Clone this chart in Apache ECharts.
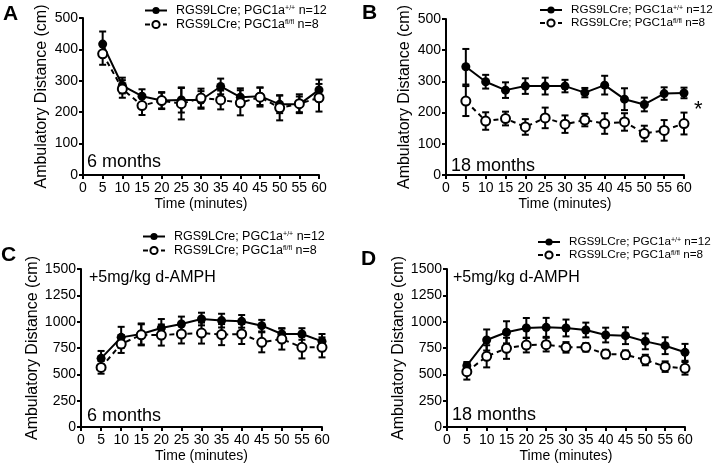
<!DOCTYPE html>
<html><head><meta charset="utf-8">
<script src="https://cdn.jsdelivr.net/npm/echarts@6/dist/echarts.min.js"></script>
<style>html,body{margin:0;padding:0;background:#fff}#c{width:720px;height:467px}</style>
</head><body><div id="c"></div>
<script>
const times = [5,10,15,20,25,30,35,40,45,50,55,60];
const nameWT = 'RGS9LCre; PGC1a+/+ n=12';
const nameKO = 'RGS9LCre; PGC1afl/fl n=8';

// Panel A: 6 months baseline
const aWT    = [417,285,251,237,239,239,282,248,251,225,225,271];
const aWTerr = [40,25,22,27,40,28,25,28,28,28,25,33];
const aKO    = [386,274,221,237,227,245,239,230,248,214,227,246];
const aKOerr = [35,28,30,25,50,30,30,40,30,40,30,44];

// Panel B: 18 months baseline
const bWT    = [347,299,272,285,285,285,264,288,243,226,261,263];
const bWTerr = [57,22,25,25,27,20,15,30,35,22,20,17];
const bKO    = [237,173,181,154,183,163,176,165,170,133,143,165];
const bKOerr = [48,28,22,25,33,28,20,33,28,25,33,35];

// Panel C: 6 months + d-AMPH
const cWT    = [652,851,883,940,978,1025,1010,1003,962,883,883,813];
const cWTerr = [70,100,100,85,70,60,65,60,55,55,55,70];
const cKO    = [566,788,875,873,883,892,877,883,804,835,756,756];
const cKOerr = [60,85,100,100,90,100,100,95,95,100,105,95];

// Panel D: 18 months + d-AMPH
const dWT    = [582,826,899,940,946,940,921,873,867,813,772,709];
const dWTerr = [35,100,105,95,90,80,70,70,80,75,80,80];
const dKO    = [525,671,747,778,782,756,756,693,687,636,573,557];
const dKOerr = [75,105,100,70,65,50,40,40,40,50,50,60];

const yMaxA = 500, yStepA = 100;
const yMaxC = 1500, yStepC = 250;

const FONT = 'Liberation Sans';
const panels = [
  {grid:{left:83, top:18, width:236, height:157}, ymax:yMaxA, ystep:yStepA, wt:aWT, wte:aWTerr, ko:aKO, koe:aKOerr, legend:{left:144, top:4}, gap:33, lf:12.5},
  {grid:{left:446, top:19, width:238, height:156}, ymax:yMaxA, ystep:yStepA, wt:bWT, wte:bWTerr, ko:bKO, koe:bKOerr, legend:{left:539, top:4}, gap:33, lf:11.7},
  {grid:{left:81, top:269, width:241, height:158}, ymax:yMaxC, ystep:yStepC, wt:cWT, wte:cWTerr, ko:cKO, koe:cKOerr, legend:{left:142, top:230}, gap:36, lf:12.5},
  {grid:{left:447, top:269, width:238, height:158}, ymax:yMaxC, ystep:yStepC, wt:dWT, wte:dWTerr, ko:dKO, koe:dKOerr, legend:{left:537, top:236}, gap:36, lf:11.7}
];

function errRender(params, api){
  const x = api.value(0), lo = api.value(1), hi = api.value(2);
  const p1 = api.coord([x, lo]), p2 = api.coord([x, hi]);
  const w = 3.5, st = {stroke:'#000', lineWidth:2};
  return {type:'group', children:[
    {type:'line', shape:{x1:p1[0], y1:p1[1], x2:p2[0], y2:p2[1]}, style:st},
    {type:'line', shape:{x1:p1[0]-w, y1:p1[1], x2:p1[0]+w, y2:p1[1]}, style:st},
    {type:'line', shape:{x1:p2[0]-w, y1:p2[1], x2:p2[0]+w, y2:p2[1]}, style:st}
  ]};
}

const grid = [], xAxis = [], yAxis = [], series = [], legend = [];
panels.forEach((p, i) => {
  grid.push(p.grid);
  xAxis.push({
    type:'value', gridIndex:i, min:0, max:60, interval:5,
    name:'Time (minutes)', nameLocation:'middle', nameGap:22,
    nameTextStyle:{fontFamily:FONT, fontSize:14, color:'#000'},
    axisLine:{show:true, lineStyle:{color:'#000', width:2}},
    axisTick:{show:true, length:4, lineStyle:{color:'#000', width:2}},
    axisLabel:{fontFamily:FONT, fontSize:14, color:'#000', margin:6, formatter: v => String(v)},
    splitLine:{show:false}
  });
  yAxis.push({
    type:'value', gridIndex:i, min:0, max:p.ymax, interval:p.ystep,
    name:'Ambulatory Distance (cm)', nameLocation:'middle', nameGap: p.gap,
    nameTextStyle:{fontFamily:FONT, fontSize:16, color:'#000'},
    axisLine:{show:true, lineStyle:{color:'#000', width:2}},
    axisTick:{show:true, length:4, lineStyle:{color:'#000', width:2}},
    axisLabel:{fontFamily:FONT, fontSize:14, color:'#000', margin:5, formatter: v => String(v)},
    splitLine:{show:false}
  });
  series.push({
    type:'custom', xAxisIndex:i, yAxisIndex:i, z:1, silent:true,
    renderItem: errRender,
    data: times.map((t,k) => [t, p.wt[k]-p.wte[k], p.wt[k]+p.wte[k]])
  });
  series.push({
    type:'custom', xAxisIndex:i, yAxisIndex:i, z:1, silent:true,
    renderItem: errRender,
    data: times.map((t,k) => [t, p.ko[k]-p.koe[k], p.ko[k]+p.koe[k]])
  });
  series.push({
    name:nameWT, type:'line', xAxisIndex:i, yAxisIndex:i, z:3,
    data: times.map((t,k) => [t, p.wt[k]]),
    symbol:'circle', symbolSize:9,
    itemStyle:{color:'#000', borderColor:'#000', borderWidth:0},
    lineStyle:{color:'#000', width:2, type:'solid'},
    animation:false
  });
  series.push({
    name:nameKO, type:'line', xAxisIndex:i, yAxisIndex:i, z:4,
    data: times.map((t,k) => [t, p.ko[k]]),
    symbol:'circle', symbolSize:9,
    itemStyle:{color:'#fff', borderColor:'#000', borderWidth:2},
    lineStyle:{color:'#000', width:2, type:[5,4]},
    animation:false
  });
  legend.push({
    data:[nameWT, nameKO], orient:'vertical', left:p.legend.left, top:p.legend.top,
    itemWidth:22, itemHeight:9, itemGap:1, padding:0, selectedMode:false,
    formatter: n => n === nameWT ? '{t|RGS9LCre; PGC1a}{s|+/+}{t| n=12}' : '{t|RGS9LCre; PGC1a}{s|fl/fl}{t| n=8}',
    textStyle:{
      fontFamily:FONT, fontSize:p.lf, color:'#000', lineHeight:11, padding:[0,0,0,4],
      rich:{
        t:{fontFamily:FONT, fontSize:p.lf, color:'#000', lineHeight:11},
        s:{fontFamily:FONT, fontSize:7, color:'#000', verticalAlign:'top', lineHeight:11}
      }
    }
  });
});

function txt(left, top, text, size, bold){
  return {type:'text', left, top, style:{text, fontFamily:FONT, fontSize:size, fontWeight: bold ? 'bold' : 'normal', fill:'#000'}};
}

const chart = echarts.init(document.getElementById('c'), null, {renderer:'canvas'});
chart.setOption({
  backgroundColor:'#fff',
  animation:false,
  grid, xAxis, yAxis, series, legend,
  graphic:[
    txt(3, 4, 'A', 21, true),
    txt(362, 3, 'B', 21, true),
    txt(1, 245, 'C', 21, true),
    txt(361, 249, 'D', 21, true),
    txt(87, 153, '6 months', 18),
    txt(451, 157, '18 months', 18),
    txt(87, 407, '6 months', 18),
    txt(452, 406, '18 months', 18),
    txt(89, 270, '+5mg/kg d-AMPH', 16),
    txt(453, 270, '+5mg/kg d-AMPH', 16),
    txt(694, 99, '*', 22)
  ]
});
</script>
</body></html>
